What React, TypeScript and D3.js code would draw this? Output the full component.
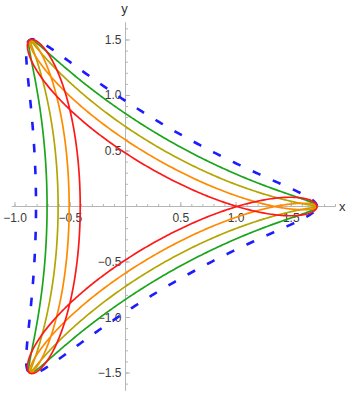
import { useMemo } from "react";
import * as d3 from "d3";

const W = 349;
const H = 394;

// three-fold curves z(t) = a e^{it} + b e^{-2it} + c e^{4it}, all through the vertices at radius √3
const curveKeys = ["outer", "green", "olive", "orange", "red"];
const sideDepth = [0.81, 0.71, 0.61, 0.51, 0.41]; // |x| where each curve crosses the negative x axis
const thirdHarmonic = [0, 0, 0, -0.01, -0.015];
const curveColors = ["#1c1cff", "#1ba51b", "#b3a600", "#ff8a00", "#ff1818"];
const vertexRadius = Math.sqrt(3);

const xTicks = [-1, -0.5, 0.5, 1, 1.5];
const yTicks = [-1.5, -1, -0.5, 0.5, 1, 1.5];

export default function App() {
  const x = d3.scaleLinear().domain([-1.03, 1.9]).range([11.7, 335.5]);
  const y = d3.scaleLinear().domain([-1.66, 1.66]).range([390.8, 22.2]);
  const fmt = d3.format(".1f");

  const paths = useMemo(() => {
    const ts = d3.range(0, 721).map((i) => (i / 720) * 2 * Math.PI);
    return curveKeys.map((key, k) => {
      const c = thirdHarmonic[k];
      const a = (vertexRadius + sideDepth[k]) / 2;
      const b = (vertexRadius - sideDepth[k]) / 2 - c;
      const pts: [number, number][] = ts.map((t) => [
        a * Math.cos(t) + b * Math.cos(2 * t) + c * Math.cos(4 * t),
        a * Math.sin(t) - b * Math.sin(2 * t) + c * Math.sin(4 * t),
      ]);
      const line = d3
        .line<[number, number]>()
        .x((d) => x(d[0]))
        .y((d) => y(d[1]));
      return { key, d: line(pts) || "", color: curveColors[k] };
    });
  }, []);

  const x0 = x(0);
  const y0 = y(0);
  const xMinor = x.ticks(30);
  const yMinor = y.ticks(33);
  const axisColor = "#b5b5b5";
  const textColor = "#3a3a3a";
  const font = "'Liberation Sans', Arial, sans-serif";

  return (
    <svg
      width={W}
      height={H}
      style={{ position: "absolute", left: 0, top: 0, background: "#fff" }}
    >
      {/* axes */}
      <g stroke={axisColor} strokeWidth={1}>
        <line x1={x.range()[0]} x2={x.range()[1]} y1={y0} y2={y0} />
        <line x1={x0} x2={x0} y1={y.range()[0]} y2={y.range()[1]} />
        {xMinor.map((v) => (
          <line key={"xm" + v} x1={x(v)} x2={x(v)} y1={y0} y2={y0 - 2.5} />
        ))}
        {yMinor.map((v) => (
          <line key={"ym" + v} x1={x0} x2={x0 + 2.5} y1={y(v)} y2={y(v)} />
        ))}
        {xTicks.map((v) => (
          <line key={"xM" + v} x1={x(v)} x2={x(v)} y1={y0} y2={y0 - 4.5} />
        ))}
        {yTicks.map((v) => (
          <line key={"yM" + v} x1={x0} x2={x0 + 4.5} y1={y(v)} y2={y(v)} />
        ))}
      </g>
      <g fontFamily={font} fontSize={12} fill={textColor}>
        {xTicks.map((v) => (
          <text key={"xl" + v} x={x(v)} y={y0 + 15} textAnchor="middle">
            {fmt(v)}
          </text>
        ))}
        {yTicks.map((v) => (
          <text
            key={"yl" + v}
            x={x0 - 4}
            y={y(v)}
            textAnchor="end"
            dominantBaseline="central"
          >
            {fmt(v)}
          </text>
        ))}
      </g>
      <g fontFamily={font} fontSize={13} fill="#333">
        <text x={339} y={y0} dominantBaseline="central">
          x
        </text>
        <text x={x0 - 1} y={13} textAnchor="middle">
          y
        </text>
      </g>

      {/* curves */}
      <g fill="none" strokeLinejoin="round">
        {paths.map((p) => (
          <path
            key={p.key}
            d={p.d}
            stroke={p.color}
            strokeWidth={p.key === "outer" ? 2.6 : 1.7}
            strokeDasharray={p.key === "outer" ? "8.5,13.5" : undefined}
          />
        ))}
      </g>
    </svg>
  );
}
